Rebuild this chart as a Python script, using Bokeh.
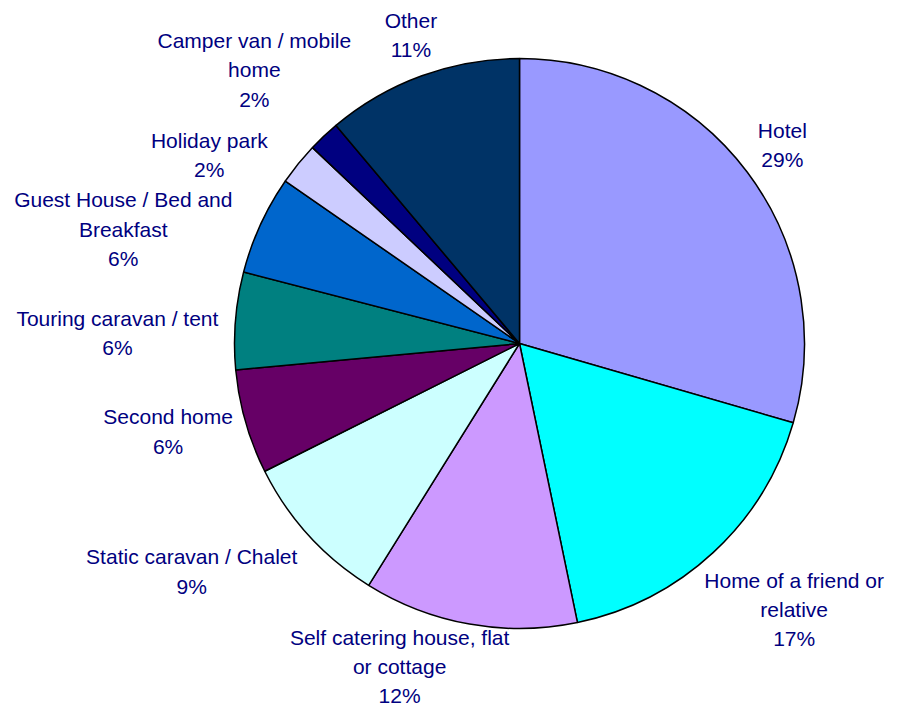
import math
from bokeh.plotting import figure
from bokeh.models import Range1d, ColumnDataSource
from bokeh.core.properties import value
from bokeh.embed import file_html
from bokeh.resources import INLINE

# ---- data ----
categories = [
    "Hotel",
    "Home of a friend or\nrelative",
    "Self catering house, flat\nor cottage",
    "Static caravan / Chalet",
    "Second home",
    "Touring caravan / tent",
    "Guest House / Bed and\nBreakfast",
    "Holiday park",
    "Camper van / mobile\nhome",
    "Other",
]
shares = [29.4, 17.2, 12.1, 8.7, 5.9, 5.5, 5.6, 2.4, 1.8, 11.1]
colors = ["#9999FF", "#00FFFF", "#CC99FF", "#CCFFFF", "#660066",
          "#008080", "#0066CC", "#CCCCFF", "#000080", "#003366"]

# ---- layout ----
W, H = 891, 708
CX, CY = 519, 343          # pie centre in plot pixels (from top-left)
R = 285
FONT = 21
LINE_H = 1.27
PAD = 20
# manual label nudges (pixels, x right / y down), like hand-placed Excel labels
nudge = [(0, 2), (6, 10), (-47, -20), (-24, 3), (2, -4),
         (6, 16), (-24, 31), (-27, 22), (10, -20), (5, 5)]

total = sum(shares)
fracs = [s / total for s in shares]
pcts = [f"{round(f * 100)}%" for f in fracs]

starts, ends, cum = [], [], 0.0
for f in fracs:
    starts.append(math.pi / 2 - cum * 2 * math.pi)
    cum += f
    ends.append(math.pi / 2 - cum * 2 * math.pi)

def text_w(s):
    w = 0.0
    for ch in s:
        if ch in "ilfjt /,.'":
            w += 0.28
        elif ch in "mwMW":
            w += 0.83
        elif ch.isupper() or ch == "%":
            w += 0.70
        else:
            w += 0.556
    return w * 20

lx, ly, ltxt = [], [], []
for cat, pct, a0, a1, (nx, ny) in zip(categories, pcts, starts, ends, nudge):
    mid = (a0 + a1) / 2
    dx, dy = math.cos(mid), math.sin(mid)
    lines = cat.split("\n") + [pct]
    w = max(text_w(l) for l in lines)
    h = len(lines) * 20 * 1.45
    lx.append(dx * (R + PAD) + dx * w / 2 + nx)
    ly.append(dy * (R + PAD) + dy * h / 2 - ny)
    ltxt.append("\n".join(lines))

p = figure(width=W, height=H, output_backend="svg", toolbar_location=None,
           x_range=Range1d(-CX, W - CX), y_range=Range1d(-(H - CY), CY),
           min_border=0, outline_line_color=None)
p.axis.visible = False
p.grid.visible = False
p.background_fill_color = "white"
p.border_fill_color = "white"

src = ColumnDataSource(dict(start=starts, end=ends, color=colors))
p.wedge(x=0, y=0, radius=R, start_angle="start", end_angle="end",
        direction="clock", fill_color="color", line_color="black",
        line_width=1.5, source=src)

lsrc = ColumnDataSource(dict(x=lx, y=ly, text=ltxt))
p.text(x="x", y="y", text="text", source=lsrc, text_align="center",
       text_baseline="middle", text_font=value("Liberation Sans"),
       text_font_size=f"{FONT}px", text_color="#000080",
       text_line_height=LINE_H)

open("out.html", "w").write(file_html(p, INLINE))
